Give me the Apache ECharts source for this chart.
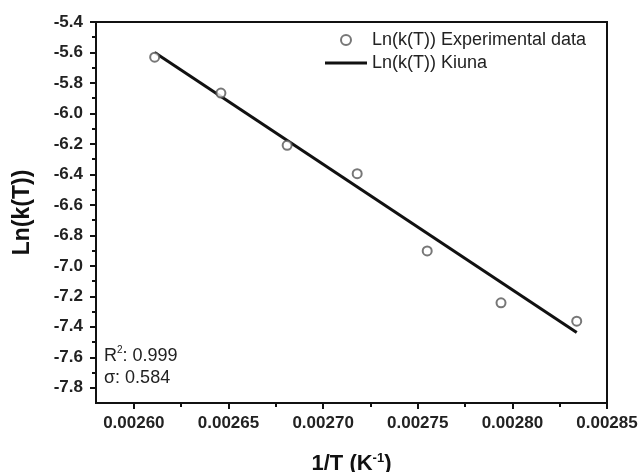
<!DOCTYPE html>
<html>
<head>
<meta charset="utf-8">
<script src="https://cdn.jsdelivr.net/npm/echarts@6/dist/echarts.min.js"></script>
<style>html,body{margin:0;padding:0;background:#fff}#c{width:640px;height:472px}</style>
</head>
<body>
<div id="c"></div>
<script>
// Data
const expX = [0.002611, 0.002646, 0.002681, 0.002718, 0.002755, 0.002794, 0.002834];
const expY = [-5.631, -5.866, -6.209, -6.395, -6.902, -7.243, -7.363];
const fitX = [0.002611, 0.002834];
const fitY = [-5.600, -7.437];
const xTicks = [0.00260, 0.00265, 0.00270, 0.00275, 0.00280, 0.00285];
const xMinor = [0.002625, 0.002675, 0.002725, 0.002775, 0.002825];
const yTicks = [-7.8, -7.6, -7.4, -7.2, -7.0, -6.8, -6.6, -6.4, -6.2, -6.0, -5.8, -5.6, -5.4];
const yMinor = [-7.7, -7.5, -7.3, -7.1, -6.9, -6.7, -6.5, -6.3, -6.1, -5.9, -5.7, -5.5];
const seriesNames = ['Ln(k(T)) Experimental data', 'Ln(k(T)) Kiuna'];

const chart = echarts.init(document.getElementById('c'), null, {renderer: 'canvas'});
const FONT = 'Liberation Sans, Arial, sans-serif';
const AX = '#111';
const xMin = 0.00258, xMax = 0.00285, yMin = -7.9, yMax = -5.4;

chart.setOption({
  animation: false,
  backgroundColor: '#fff',
  grid: {left: 96, top: 22, right: 33, bottom: 69, containLabel: false, outerBoundsMode: 'none',
    show: true, borderColor: AX, borderWidth: 2, backgroundColor: 'transparent'},
  title: {
    left: 99, top: 340,
    text: 'R{sup|2}: 0.999\nσ: 0.584',
    textStyle: {fontFamily: FONT, fontSize: 18, fontWeight: 'normal', color: '#222', lineHeight: 22,
      rich: {sup: {fontSize: 10, verticalAlign: 'top', lineHeight: 22, padding: [0, 0, 8, 0], color: '#222', fontFamily: FONT}}}
  },
  legend: {
    orient: 'vertical', left: 320, top: 26, itemWidth: 42, itemHeight: 10, itemGap: 5,
    textStyle: {fontFamily: FONT, fontSize: 18, color: '#222'},
    data: [
      {name: seriesNames[0], icon: 'emptyCircle', itemStyle: {color: '#555', borderColor: '#555', borderWidth: 0.9}},
      {name: seriesNames[1], icon: 'path://M0,0 L42,0 L42,3 L0,3 Z', itemStyle: {color: '#111'}}
    ]
  },
  xAxis: [{
    type: 'value', min: xMin, max: xMax,
    name: '1/T (K{sup|-1})', nameLocation: 'middle', nameGap: 49,
    nameTextStyle: {fontFamily: FONT, fontSize: 22, fontWeight: 'bold', color: '#111',
      rich: {sup: {fontSize: 13, fontWeight: 'bold', verticalAlign: 'top', padding: [0, 0, 10, 0], fontFamily: FONT, color: '#111'}}},
    axisLine: {show: true, onZero: false, lineStyle: {color: AX, width: 2}},
    axisTick: {show: true, inside: false, length: 6, lineStyle: {color: AX, width: 2}, customValues: xTicks},
    axisLabel: {show: true, margin: 12, fontFamily: FONT, fontSize: 17, fontWeight: 'bold', color: '#222',
      customValues: xTicks, formatter: v => Number(v).toFixed(5)},
    splitLine: {show: false}
  }, {
    type: 'value', min: xMin, max: xMax, position: 'bottom',
    axisLine: {show: false},
    axisTick: {show: true, inside: false, length: 4, lineStyle: {color: AX, width: 2}, customValues: xMinor},
    axisLabel: {show: false},
    splitLine: {show: false}
  }],
  yAxis: [{
    type: 'value', min: yMin, max: yMax,
    name: 'Ln(k(T))', nameLocation: 'middle', nameGap: 62, nameRotate: 90,
    nameTextStyle: {fontFamily: FONT, fontSize: 23, fontWeight: 'bold', color: '#111'},
    axisLine: {show: true, onZero: false, lineStyle: {color: AX, width: 2}},
    axisTick: {show: true, inside: false, length: 6, lineStyle: {color: AX, width: 2}, customValues: yTicks},
    axisLabel: {show: true, margin: 13, fontFamily: FONT, fontSize: 17, fontWeight: 'bold', color: '#222',
      customValues: yTicks, formatter: v => Number(v).toFixed(1)},
    splitLine: {show: false}
  }, {
    type: 'value', min: yMin, max: yMax, position: 'left',
    axisLine: {show: false},
    axisTick: {show: true, inside: false, length: 4, lineStyle: {color: AX, width: 2}, customValues: yMinor},
    axisLabel: {show: false},
    splitLine: {show: false}
  }],
  series: [{
    name: seriesNames[0], type: 'scatter', xAxisIndex: 0, yAxisIndex: 0,
    symbol: 'emptyCircle', symbolSize: 9,
    itemStyle: {color: '#555', borderColor: '#555', borderWidth: 0.9},
    data: expX.map((x, i) => [x, expY[i]]), z: 3
  }, {
    name: seriesNames[1], type: 'line', xAxisIndex: 0, yAxisIndex: 0,
    symbol: 'none', showSymbol: false,
    lineStyle: {color: '#111', width: 3},
    itemStyle: {color: '#111'},
    data: fitX.map((x, i) => [x, fitY[i]]), z: 2
  }]
});
</script>
</body>
</html>
